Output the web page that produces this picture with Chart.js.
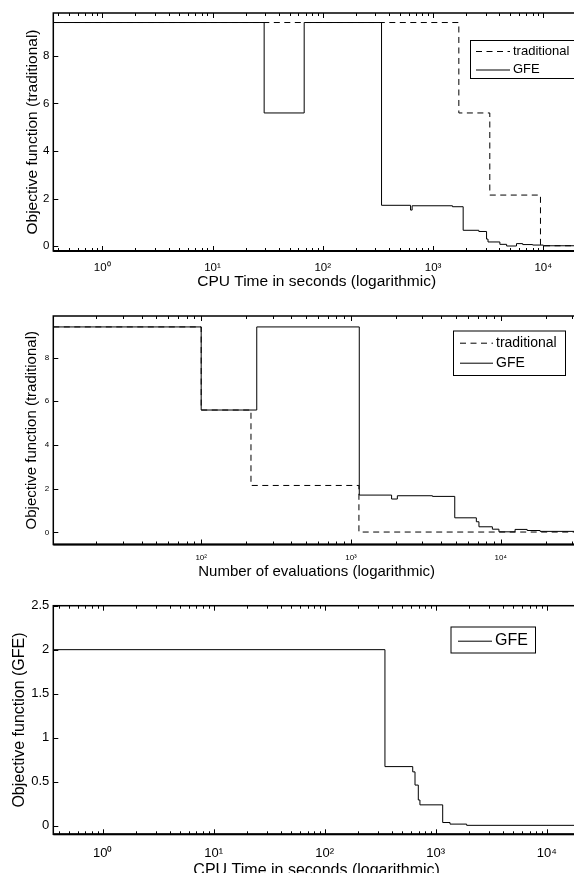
<!DOCTYPE html>
<html>
<head>
<meta charset="utf-8">
<script src="https://cdn.jsdelivr.net/npm/chart.js@4/dist/chart.umd.min.js"></script>
<style>
  html, body { margin: 0; padding: 0; background: #fff; overflow: hidden; width: 574px; height: 873px; }
  canvas { position: absolute; left: 0; }
</style>
</head>
<body>
<canvas id="cpuChart" width="600" height="300" style="top:0px;width:600px;height:300px"></canvas>
<canvas id="evalChart" width="600" height="300" style="top:290px;width:600px;height:300px"></canvas>
<canvas id="gfeChart" width="600" height="300" style="top:590px;width:600px;height:300px"></canvas>
<script>
// --- data ---
// panel 1: objective (traditional) vs CPU time
const cpuTradX = [0.36, 1713, 3270, 9420, 21500];
const cpuTradY = [9.4, 5.6, 2.15, 0.02, 0.02];
const cpuGfeX = [0.36, 29.4, 67.8, 341, 625, 646, 1500, 1875, 2600, 3055, 3150, 4034, 4645, 5710, 6500, 8000, 10000, 21500];
const cpuGfeY = [9.4, 5.6, 9.4, 1.72, 1.52, 1.70, 1.66, 0.67, 0.62, 0.30, 0.18, 0.08, 0.01, 0.11, 0.07, 0.05, 0.02, 0.02];

// panel 2: objective (traditional) vs number of evaluations
const evalTradX = [10.3, 100, 215, 1130, 33800];
const evalTradY = [9.4, 5.6, 2.15, 0.02, 0.02];
const evalGfeX = [10.3, 100, 235, 1136, 1867, 2040, 3500, 4930, 6870, 7150, 8790, 9720, 12460, 15000, 18300, 33800];
const evalGfeY = [9.4, 5.6, 9.4, 1.71, 1.53, 1.68, 1.65, 0.67, 0.49, 0.26, 0.15, 0.03, 0.14, 0.09, 0.05, 0.02];

// panel 3: objective (GFE) vs CPU time
const gfeOnlyX = [0.359, 349, 621, 651, 697, 721, 1156, 1346, 1900, 19950];
const gfeOnlyY = [2.0, 0.67, 0.61, 0.46, 0.29, 0.235, 0.034, 0.016, 0.002, 0.002];

const xMajorCpu = [1, 10, 100, 1000, 10000];
const xMajorEval = [100, 1000, 10000];
const yTicksTrad = [0, 2, 4, 6, 8];
const yTicksGfe = [0, 0.5, 1, 1.5, 2, 2.5];

Chart.defaults.font.family = "'Liberation Sans', Arial, sans-serif";
Chart.defaults.color = '#000';

const sup = { '0': '\u2070', '1': '\u00b9', '2': '\u00b2', '3': '\u00b3', '4': '\u2074', '5': '\u2075' };
function powLabel(v) {
  const e = Math.round(Math.log10(v));
  return '10' + String(e).split('').map(c => sup[c] || c).join('');
}

function pts(xs, ys) {
  return xs.map((x, i) => ({ x: x, y: ys[i] }));
}

// box around the axes with inward ticks (matlab look)
const framePlugin = {
  id: 'frame',
  afterDatasetsDraw(chart) {
    const { ctx, chartArea: a, scales } = chart;
    const xs = scales.x, ys = scales.y;
    ctx.save();
    ctx.strokeStyle = '#000';
    ctx.lineWidth = 1;
    ctx.beginPath();
    const lo = Math.floor(Math.log10(xs.min)), hi = Math.ceil(Math.log10(xs.max));
    for (let e = lo; e <= hi; e++) {
      for (let k = 1; k <= 9; k++) {
        const v = k * Math.pow(10, e);
        if (v < xs.min || v > xs.max) continue;
        const px = Math.round(xs.getPixelForValue(v)) + 0.5;
        const len = k === 1 ? 5 : 3;
        ctx.moveTo(px, a.bottom); ctx.lineTo(px, a.bottom - len);
        ctx.moveTo(px, a.top); ctx.lineTo(px, a.top + len);
      }
    }
    ys.ticks.forEach(t => {
      const py = Math.round(ys.getPixelForValue(t.value)) + 0.5;
      ctx.moveTo(a.left, py); ctx.lineTo(a.left + 5, py);
      ctx.moveTo(a.right, py); ctx.lineTo(a.right - 5, py);
    });
    ctx.stroke();
    ctx.lineWidth = 1.5;
    ctx.strokeRect(a.left, a.top, a.right - a.left, a.bottom - a.top);
    ctx.lineWidth = 2;
    ctx.beginPath();
    ctx.moveTo(a.left, a.bottom); ctx.lineTo(a.right, a.bottom);
    ctx.stroke();
    ctx.restore();
  }
};

// legend in a white box inside the axes
const boxLegendPlugin = {
  id: 'boxLegend',
  afterDraw(chart, args, o) {
    if (!o || !o.rows) return;
    const ctx = chart.ctx;
    ctx.save();
    ctx.fillStyle = '#fff';
    ctx.fillRect(o.left, o.top, o.width, o.height);
    ctx.strokeStyle = '#000';
    ctx.lineWidth = 1;
    ctx.strokeRect(o.left + 0.5, o.top + 0.5, o.width, o.height);
    ctx.font = o.fontSize + "px 'Liberation Sans', Arial, sans-serif";
    ctx.textBaseline = 'middle';
    ctx.fillStyle = '#000';
    chart.data.datasets.forEach((ds, i) => {
      const y = o.rows[i];
      ctx.beginPath();
      ctx.setLineDash(ds.borderDash || []);
      ctx.lineWidth = 1;
      ctx.moveTo(o.lineX0, y + 0.5);
      ctx.lineTo(o.lineX1, y + 0.5);
      ctx.stroke();
      ctx.setLineDash([]);
      ctx.fillText(ds.label, o.textX, y);
    });
    ctx.restore();
  }
};

function makeChart(id, c) {
  return new Chart(document.getElementById(id), {
    type: 'line',
    data: { datasets: c.datasets },
    options: {
      responsive: false,
      animation: false,
      devicePixelRatio: 1,
      layout: { padding: { left: 0, top: c.plotTop, right: 20, bottom: 0 } },
      elements: { point: { radius: 0 }, line: { borderWidth: 1, tension: 0 } },
      plugins: {
        legend: { display: false },
        tooltip: { enabled: false },
        boxLegend: c.legend
      },
      scales: {
        x: {
          type: 'logarithmic',
          position: 'bottom',
          min: c.xMin, max: c.xMax,
          grid: { display: false, drawTicks: false },
          border: { display: false },
          afterBuildTicks: s => { s.ticks = c.xMajor.map(v => ({ value: v })); },
          afterFit: s => { s.height = 300 - c.plotBottom; },
          ticks: {
            autoSkip: false, maxRotation: 0, padding: c.xTickPad,
            font: { size: c.xTickFont },
            callback: v => powLabel(v)
          },
          title: {
            display: true, text: c.xTitle,
            font: { size: c.titleFont },
            padding: { top: 0, bottom: c.xTitlePad }
          }
        },
        y: {
          type: 'linear',
          min: c.yMin, max: c.yMax,
          grid: { display: false, drawTicks: false },
          border: { display: false },
          afterBuildTicks: s => { s.ticks = c.yTicks.map(v => ({ value: v })); },
          afterFit: s => { s.width = 53.3; },
          ticks: { padding: 4, font: { size: c.yTickFont }, callback: v => String(v) },
          title: {
            display: true, text: c.yTitle,
            font: { size: c.titleFont },
            padding: { top: c.yTitlePad, bottom: 0 }
          }
        }
      }
    },
    plugins: [framePlugin, boxLegendPlugin]
  });
}

const dashed = [6, 4.5];

makeChart('cpuChart', {
  datasets: [
    { label: 'traditional', data: pts(cpuTradX, cpuTradY), borderColor: '#000', borderDash: dashed, stepped: 'before' },
    { label: 'GFE', data: pts(cpuGfeX, cpuGfeY), borderColor: '#000', stepped: 'before' }
  ],
  xMin: 0.36, xMax: 21500, xMajor: xMajorCpu,
  yMin: -0.2, yMax: 9.8, yTicks: yTicksTrad,
  plotTop: 13, plotBottom: 251,
  xTickFont: 11.5, yTickFont: 11.5, xTickPad: 9.6,
  titleFont: 15.5, xTitlePad: 9, yTitlePad: 23,
  xTitle: 'CPU Time in seconds (logarithmic)',
  yTitle: 'Objective function (traditional)',
  legend: { left: 470, top: 40, width: 130, height: 38, fontSize: 13, lineX0: 476, lineX1: 510, textX: 513, rows: [51, 69.5] }
});

makeChart('evalChart', {
  datasets: [
    { label: 'traditional', data: pts(evalTradX, evalTradY), borderColor: '#000', borderDash: dashed, stepped: 'before' },
    { label: 'GFE', data: pts(evalGfeX, evalGfeY), borderColor: '#000', stepped: 'before' }
  ],
  xMin: 10.3, xMax: 33800, xMajor: xMajorEval,
  yMin: -0.55, yMax: 9.9, yTicks: yTicksTrad,
  plotTop: 26, plotBottom: 254.5,
  xTickFont: 8, yTickFont: 8, xTickPad: 8.7,
  titleFont: 15, xTitlePad: 9, yTitlePad: 23.2,
  xTitle: 'Number of evaluations (logarithmic)',
  yTitle: 'Objective function (traditional)',
  legend: { left: 453, top: 40.5, width: 112, height: 44.5, fontSize: 14, lineX0: 460, lineX1: 493, textX: 496, rows: [52.7, 72.7] }
});

makeChart('gfeChart', {
  datasets: [
    { label: 'GFE', data: pts(gfeOnlyX, gfeOnlyY), borderColor: '#000', stepped: 'before' }
  ],
  xMin: 0.359, xMax: 19950, xMajor: xMajorCpu,
  yMin: -0.1, yMax: 2.5, yTicks: yTicksGfe,
  plotTop: 15.7, plotBottom: 244.3,
  xTickFont: 13, yTickFont: 13, xTickPad: 11.7,
  titleFont: 16, xTitlePad: 10, yTitlePad: 9.6,
  xTitle: 'CPU Time in seconds (logarithmic)',
  yTitle: 'Objective function (GFE)',
  legend: { left: 450.5, top: 36.5, width: 84.5, height: 26, fontSize: 16, lineX0: 458, lineX1: 492, textX: 495, rows: [50.7] }
});
</script>
</body>
</html>
